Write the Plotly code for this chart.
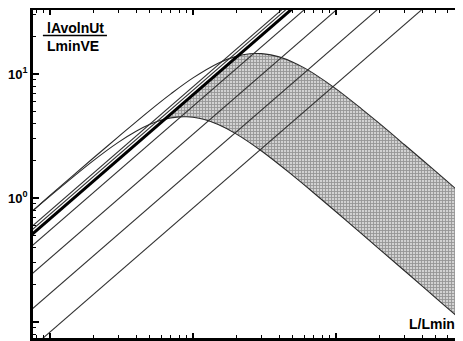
import plotly.graph_objects as go

# ---- data (log-log axes) ----
# straight guide lines y ~ x : values at the two ends of the x span
guide_x = [0.05, 100.0]
guide_y_start = [0.395, 0.37, 0.275, 0.1635, 0.085, 0.0415]
guide_y_end = [790.0, 740.0, 550.0, 327.0, 170.0, 83.0]
bold_y = [0.34, 680.0]

# upper hump curve
upper_x = [0.05, 0.07, 0.1, 0.2, 0.3, 0.5, 0.7, 1, 1.5, 2, 2.5, 3, 3.5, 4, 5, 6, 7, 10, 15, 20, 30, 50, 80, 100]
upper_y = [0.525, 0.73, 1.05, 2.09, 3.11, 5.09, 6.91, 9.30, 12.22, 13.87, 14.56, 14.60, 14.27, 13.74, 12.46, 11.20, 10.07, 7.58, 5.26, 4.01, 2.70, 1.63, 1.02, 0.817]

# lower hump curve
lower_x = [0.05, 0.07, 0.1, 0.2, 0.3, 0.4, 0.5, 0.6, 0.7, 0.8, 0.9, 1, 1.2, 1.5, 2, 3, 5, 7, 10, 15, 20, 30, 50, 80, 100]
lower_y = [0.523, 0.730, 1.036, 1.993, 2.810, 3.456, 3.928, 4.244, 4.429, 4.513, 4.521, 4.476, 4.289, 3.910, 3.290, 2.403, 1.515, 1.098, 0.774, 0.518, 0.389, 0.260, 0.156, 0.0975, 0.078]

# shaded band: top edge then bottom edge (reversed)
band_top_x = [0.636, 1, 1.5, 2.06, 2.5, 3, 3.5, 4, 5, 6, 7, 10, 15, 20, 30, 50, 80, 100]
band_top_y = [4.32, 6.8, 10.2, 14.0, 14.56, 14.60, 14.27, 13.74, 12.46, 11.20, 10.07, 7.58, 5.26, 4.01, 2.70, 1.63, 1.02, 0.817]
band_bot_x = [100, 80, 50, 30, 20, 15, 10, 7, 5, 3, 2, 1.5, 1.2, 1, 0.9, 0.8, 0.7, 0.636]
band_bot_y = [0.078, 0.0975, 0.156, 0.260, 0.389, 0.518, 0.774, 1.098, 1.515, 2.403, 3.290, 3.910, 4.289, 4.476, 4.521, 4.513, 4.429, 4.324]

y_tickvals = [0.1, 1, 10]
y_ticktext = ["", "10<sup>0</sup>", "10<sup>1</sup>"]
x_tickvals = [0.1, 1, 10]

FONT = "Liberation Sans"

fig = go.Figure()

fig.add_trace(go.Scatter(
    x=band_top_x + band_bot_x, y=band_top_y + band_bot_y,
    mode="lines", fill="toself", line=dict(width=0),
    fillcolor="#bdbdbd",
    fillpattern=dict(shape="+", size=3, solidity=0.5, fgcolor="#585858", bgcolor="#d2d2d2"),
    hoverinfo="skip"))

for y0, y1 in zip(guide_y_start, guide_y_end):
    fig.add_trace(go.Scatter(x=guide_x, y=[y0, y1], mode="lines",
                             line=dict(color="#333333", width=1.1)))

fig.add_trace(go.Scatter(x=upper_x, y=upper_y, mode="lines",
                         line=dict(color="#2a2a2a", width=1.1, shape="spline")))
fig.add_trace(go.Scatter(x=lower_x, y=lower_y, mode="lines",
                         line=dict(color="#2a2a2a", width=1.1, shape="spline")))
fig.add_trace(go.Scatter(x=guide_x, y=bold_y, mode="lines",
                         line=dict(color="black", width=3)))

minor_x = [0.08, 0.09] + [i / 10 for i in range(2, 10)] + list(range(2, 10)) + [20, 30, 40, 50, 60, 70]
minor_y = [0.08, 0.09] + [i / 10 for i in range(2, 10)] + list(range(2, 10)) + [20, 30]

# the page body has an 8px default margin, so the figure is sized to fit the window
fig.update_layout(
    width=455, height=333,
    margin=dict(l=25, r=0, t=2, b=3, autoexpand=False),
    paper_bgcolor="white", plot_bgcolor="white",
    showlegend=False,
    xaxis=dict(type="log", range=[-1.119, 1.888], showline=True, linecolor="black",
               linewidth=2.5, mirror="ticks", ticks="inside", ticklen=5, tickwidth=1.5,
               tickcolor="black", tickvals=x_tickvals, showticklabels=False,
               showgrid=False, zeroline=False, automargin=False,
               minor=dict(ticks="inside", ticklen=3, tickwidth=1, tickcolor="black",
                          tickvals=minor_x, showgrid=False)),
    yaxis=dict(type="log", range=[-1.129, 1.516], showline=True, linecolor="black",
               linewidth=2.5, mirror="ticks", ticks="inside", ticklen=6, tickwidth=1.5,
               tickcolor="black", tickvals=y_tickvals, ticktext=y_ticktext,
               tickfont=dict(family=FONT, size=13, color="black", weight="bold"),
               showgrid=False, zeroline=False, automargin=False,
               minor=dict(ticks="inside", ticklen=3, tickwidth=1, tickcolor="black",
                          tickvals=minor_y, showgrid=False)),
    annotations=[
        dict(text="lAvolnUt", xref="paper", yref="paper", x=0.098, y=0.945,
             xanchor="center", yanchor="middle",
             showarrow=False, font=dict(family=FONT, size=14, color="black", weight="bold")),
        dict(text="LminVE", xref="paper", yref="paper", x=0.093, y=0.89,
             xanchor="center", yanchor="middle",
             showarrow=False, font=dict(family=FONT, size=14, color="black", weight="bold")),
        dict(text="L/Lmin", xref="paper", yref="paper", x=0.928, y=0.043,
             xanchor="center", yanchor="middle",
             showarrow=False, font=dict(family=FONT, size=14, color="black", weight="bold")),
    ],
    shapes=[dict(type="line", xref="paper", yref="paper", x0=0.023, x1=0.172,
                 y0=0.922, y1=0.922, line=dict(color="black", width=1.5))],
)

fig.write_html("out.html")
